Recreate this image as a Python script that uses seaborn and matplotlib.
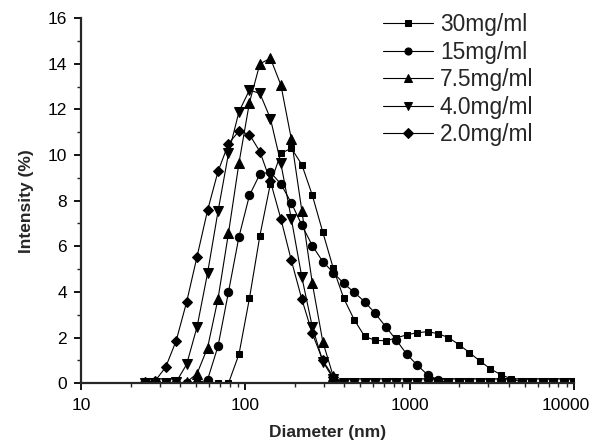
import matplotlib
matplotlib.use('Agg')
import matplotlib.pyplot as plt
import matplotlib.transforms as mtransforms
import numpy as np
import pandas as pd
import seaborn as sns
from matplotlib.ticker import FixedLocator, LogLocator, NullFormatter, MultipleLocator

sns.set_style('ticks')
plt.rcParams['font.family'] = ['Liberation Sans', 'DejaVu Sans']

# size bins (nm)
diameter = [24.36, 28.21, 32.67, 37.84, 43.82, 50.75, 58.77, 68.06, 78.82, 91.28,
            105.7, 122.4, 141.8, 164.2, 190.1, 220.2, 255.0, 295.3, 342.0, 396.1,
            458.7, 531.2, 615.1, 712.4, 825.0, 955.4, 1106, 1281, 1484, 1718,
            1990, 2305, 2669, 3091, 3580, 4145, 4801, 5560, 6439, 7456,
            8635, 10000]

# intensity (%) for each concentration
c30 = [0, 0, 0, 0, 0, 0, 0, 0, 0, 1.27,
       3.72, 6.47, 8.75, 10.07, 10.3, 9.58, 8.24, 6.62, 5.04, 3.72,
       2.78, 2.05, 1.88, 1.86, 1.98, 2.12, 2.21, 2.26, 2.17, 2.0,
       1.69, 1.34, 0.97, 0.63, 0.37, 0.19, 0.05, 0, 0, 0,
       0, 0]
c15 = [0, 0, 0, 0, 0, 0, 0.15, 1.62, 4.0, 6.42,
       8.23, 9.17, 9.25, 8.73, 7.9, 6.93, 6.03, 5.33, 4.85, 4.37,
       3.98, 3.57, 3.06, 2.48, 1.9, 1.28, 0.8, 0.37, 0.15, 0,
       0, 0, 0, 0, 0, 0, 0, 0, 0, 0,
       0, 0]
c7_5 = [0, 0, 0, 0, 0.05, 0.42, 1.55, 3.7, 6.58, 9.65,
        12.3, 14.0, 14.24, 13.07, 10.7, 7.56, 4.38, 1.82, 0.3, 0,
        0, 0, 0, 0, 0, 0, 0, 0, 0, 0,
        0, 0, 0, 0, 0, 0, 0, 0, 0, 0,
        0, 0]
c4 = [0, 0, 0, 0.05, 0.82, 2.47, 4.82, 7.53, 10.07, 11.9,
      12.85, 12.7, 11.6, 9.63, 7.2, 4.65, 2.47, 0.95, 0.2, 0,
      0, 0, 0, 0, 0, 0, 0, 0, 0, 0,
      0, 0, 0, 0, 0, 0, 0, 0, 0, 0,
      0, 0]
c2 = [0.05, 0.1, 0.7, 1.85, 3.55, 5.55, 7.57, 9.28, 10.5, 11.05,
      10.9, 10.15, 8.85, 7.2, 5.38, 3.68, 2.18, 1.0, 0.28, 0,
      0, 0, 0, 0, 0, 0, 0, 0, 0, 0,
      0, 0, 0, 0, 0, 0, 0, 0, 0, 0,
      0, 0]

labels = ['30mg/ml', '15mg/ml', '7.5mg/ml', '4.0mg/ml', '2.0mg/ml']
series = [c30, c15, c7_5, c4, c2]
markers = ['s', 'o', '^', 'v', 'D']
msizes = [5, 6, 7, 7, 5.5]

fig, ax = plt.subplots(figsize=(5.92, 4.43), dpi=100)
fig.subplots_adjust(left=0.137, right=0.97, bottom=0.135, top=0.959)
ax.set_xscale('log')

for lab, vals, m, ms in zip(labels, series, markers, msizes):
    d = pd.DataFrame({'Diameter': diameter, 'Intensity': vals})
    sns.lineplot(data=d, x='Diameter', y='Intensity', ax=ax, color='black',
                 marker=m, markersize=ms, markeredgecolor='black', linewidth=0.8,
                 label=lab)

ax.set_xlim(10, 10000)
ax.set_ylim(0, 16)
ax.yaxis.set_major_locator(MultipleLocator(2))
ax.yaxis.set_minor_locator(MultipleLocator(1))
ax.xaxis.set_major_locator(FixedLocator([10, 100, 1000, 10000]))
ax.xaxis.set_major_formatter(plt.FuncFormatter(lambda v, p: '%d' % v))
ax.xaxis.set_minor_locator(LogLocator(base=10, subs=np.arange(2, 10)))
ax.xaxis.set_minor_formatter(NullFormatter())

sns.despine(ax=ax)
for s in ['left', 'bottom']:
    ax.spines[s].set_linewidth(1.6)
ax.tick_params(which='major', direction='out', length=5, width=1.3, labelsize=12.5,
               colors='black', pad=5)
ax.tick_params(which='minor', direction='out', length=3, width=1.0)
ax.tick_params(axis='x', which='major', pad=6)

ax.set_xlabel('Diameter (nm)', fontsize=12.5, fontweight='bold', labelpad=8)
ax.set_ylabel('Intensity (%)', fontsize=12.5, fontweight='bold', labelpad=10)

# last x label sits shifted left so it fits
fig.canvas.draw()
last = ax.get_xticklabels()[-1]
last.set_transform(last.get_transform() +
                   mtransforms.ScaledTranslation(-8 / 100, 0, fig.dpi_scale_trans))

ax.legend(loc='upper left', bbox_to_anchor=(383 / 592, 1 - 13 / 443),
          bbox_transform=fig.transFigure, frameon=False, fontsize=16.4,
          handlelength=2.2, handletextpad=0.3, labelspacing=0.2,
          borderpad=0, borderaxespad=0, numpoints=1, markerscale=0.85)

fig.savefig('out.png', dpi=100)
